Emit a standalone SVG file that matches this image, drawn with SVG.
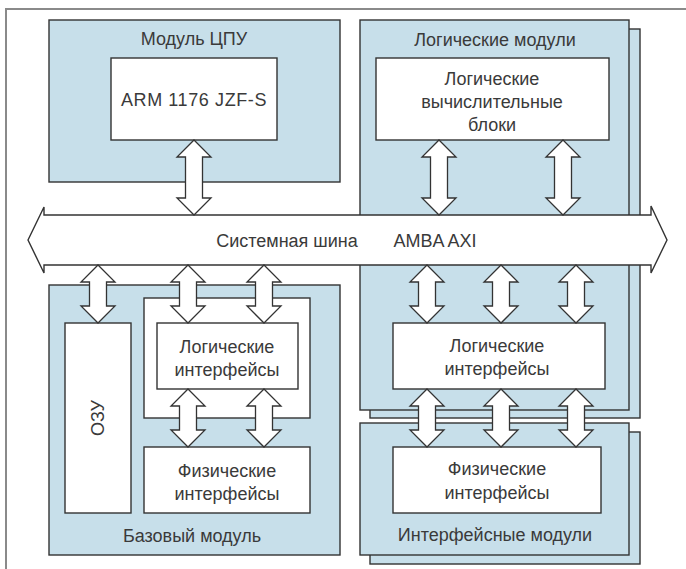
<svg xmlns="http://www.w3.org/2000/svg" width="686" height="569" viewBox="0 0 686 569">
<style>
.mod{fill:#c7dfea;stroke:#333;stroke-width:1.4}
.box{fill:#fff;stroke:#333;stroke-width:1.4}
.arr{fill:#fff;stroke:#333;stroke-width:1.3;stroke-linejoin:miter}
text{font-family:"Liberation Sans",Arial,sans-serif;font-size:18px;fill:#3a3a3a;text-anchor:middle}
</style>
<rect width="686" height="569" fill="#fff"/>
<path d="M6,569 V9 H686" fill="none" stroke="#8a8a8a" stroke-width="2"/>

<g id="cpu-module">
<rect class="mod" x="49" y="20" width="291" height="162"/>
<text x="194" y="45">Модуль ЦПУ</text>
</g>
<g id="arm">
<rect class="box" x="111" y="58" width="166" height="82"/>
<text x="194" y="106" letter-spacing="0.6">ARM 1176 JZF-S</text>
</g>

<g id="logic-modules">
<rect class="mod" x="370" y="29" width="270" height="389"/>
<rect class="mod" x="360" y="20" width="269" height="390"/>
<text x="495" y="46">Логические модули</text>
</g>
<g id="lvb">
<rect class="box" x="376" y="58" width="233" height="82"/>
<text x="492" y="85">Логические</text>
<text x="492" y="108">вычислительные</text>
<text x="492" y="131">блоки</text>
</g>
<g id="right-li">
<rect class="box" x="393" y="323" width="212" height="66"/>
<text x="497" y="352">Логические</text>
<text x="497" y="375">интерфейсы</text>
</g>

<g id="iface-modules">
<rect class="mod" x="370" y="432" width="270" height="132"/>
<rect class="mod" x="360" y="423" width="269" height="132"/>
<text x="495" y="541">Интерфейсные модули</text>
</g>
<g id="right-pi">
<rect class="box" x="393" y="447" width="208" height="66"/>
<text x="497" y="475">Физические</text>
<text x="497" y="499">интерфейсы</text>
</g>

<g id="base-module">
<rect class="mod" x="49" y="285" width="291" height="270"/>
<text x="192" y="542">Базовый модуль</text>
</g>
<g id="ram">
<rect class="box" x="65" y="323" width="66" height="190"/>
<text transform="translate(104,418) rotate(-90)" x="0" y="0">ОЗУ</text>
</g>
<g id="li-frame">
<rect class="box" x="144" y="298" width="166" height="120"/>
</g>
<g id="left-li">
<rect class="box" x="157" y="323" width="141" height="66"/>
<text x="227" y="353">Логические</text>
<text x="227" y="376">интерфейсы</text>
</g>
<g id="left-pi">
<rect class="box" x="144" y="447" width="166" height="66"/>
<text x="227" y="477">Физические</text>
<text x="227" y="500">интерфейсы</text>
</g>

<g id="bus">
<polygon class="box" points="28,240 44,207 44,215 651,215 651,206 667,240 651,273 651,265 44,265 44,273"/>
<text x="287" y="247">Системная шина</text>
<text x="435" y="247">AMBA AXI</text>
</g>

<g id="connectors">
<polygon class="arr" points="194,140 211,157 202.5,157 202.5,198 211,198 194,215 177,198 185.5,198 185.5,157 177,157"/>
<polygon class="arr" points="439,140 456,157 447.5,157 447.5,198 456,198 439,215 422,198 430.5,198 430.5,157 422,157"/>
<polygon class="arr" points="563,140 580,157 571.5,157 571.5,198 580,198 563,215 546,198 554.5,198 554.5,157 546,157"/>

<polygon class="arr" points="98,265 115,282 106.5,282 106.5,306 115,306 98,323 81,306 89.5,306 89.5,282 81,282"/>
<polygon class="arr" points="188,265 205,282 196.5,282 196.5,306 205,306 188,323 171,306 179.5,306 179.5,282 171,282"/>
<polygon class="arr" points="264,265 281,282 272.5,282 272.5,306 281,306 264,323 247,306 255.5,306 255.5,282 247,282"/>
<polygon class="arr" points="188,389 205,406 196.5,406 196.5,430 205,430 188,447 171,430 179.5,430 179.5,406 171,406"/>
<polygon class="arr" points="264,389 281,406 272.5,406 272.5,430 281,430 264,447 247,430 255.5,430 255.5,406 247,406"/>

<polygon class="arr" points="427,265 444,282 435.5,282 435.5,306 444,306 427,323 410,306 418.5,306 418.5,282 410,282"/>
<polygon class="arr" points="501,265 518,282 509.5,282 509.5,306 518,306 501,323 484,306 492.5,306 492.5,282 484,282"/>
<polygon class="arr" points="576,265 593,282 584.5,282 584.5,306 593,306 576,323 559,306 567.5,306 567.5,282 559,282"/>
<polygon class="arr" points="427,389 444,406 435.5,406 435.5,430 444,430 427,447 410,430 418.5,430 418.5,406 410,406"/>
<polygon class="arr" points="501,389 518,406 509.5,406 509.5,430 518,430 501,447 484,430 492.5,430 492.5,406 484,406"/>
<polygon class="arr" points="576,389 593,406 584.5,406 584.5,430 593,430 576,447 559,430 567.5,430 567.5,406 559,406"/>
</g>
</svg>
